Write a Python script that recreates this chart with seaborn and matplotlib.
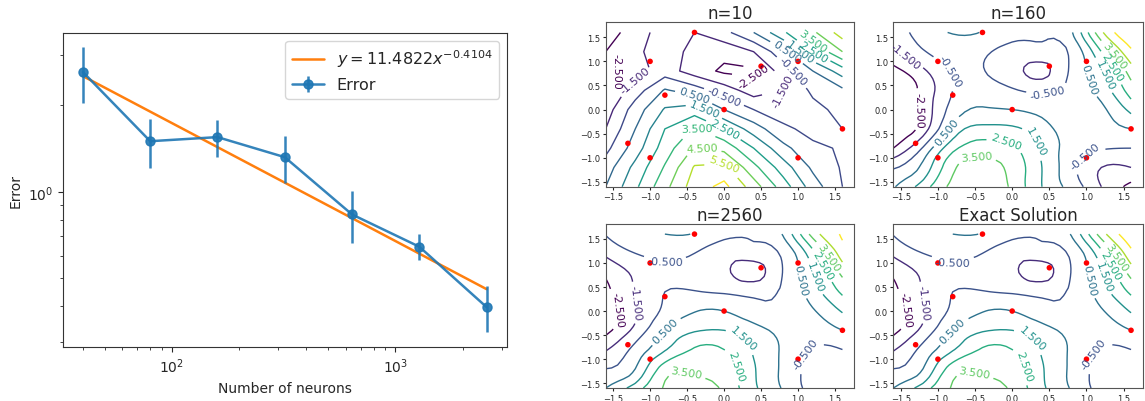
import numpy as np
import matplotlib
matplotlib.use("Agg")
import matplotlib.pyplot as plt
import matplotlib.tri as mtri
import seaborn as sns

# ---- left panel: convergence ----
neurons = [40, 80, 160, 320, 640, 1280, 2560]
error = [2.61, 1.50, 1.55, 1.32, 0.834, 0.644, 0.397]
error_bar = [0.57, 0.29, 0.23, 0.245, 0.17, 0.067, 0.073]
fit_coef = 11.4822
fit_expo = -0.4104

# ---- right panels: contour fields read on a 9x9 grid ----
grid_x = [-1.6, -1.2, -0.8, -0.4, 0.0, 0.4, 0.8, 1.2, 1.6]
grid_y = [1.6, 1.2, 0.8, 0.4, 0.0, -0.4, -0.8, -1.2, -1.6]

z_n10 = [
    [-3.0, -2.0, -1.0, -1.5, -0.8, 0.5, 2.3, 4.3, 6.0],
    [-2.5, -1.7, -1.0, -1.8, -2.2, -1.5, 0.2, 2.5, 4.5],
    [-2.8, -2.0, -1.0, -2.0, -2.7, -2.7, -1.0, 0.5, 2.0],
    [-2.5, -1.0, 0.6, 0.0, -1.0, -2.0, -1.5, -0.3, 0.3],
    [-2.0, 0.0, 1.6, 2.0, 0.5, -0.5, -1.0, -0.8, -0.2],
    [-1.5, 0.5, 2.5, 3.6, 2.5, 1.0, -0.3, -0.8, -0.5],
    [-0.8, 1.0, 3.0, 4.6, 4.2, 2.5, 0.8, -0.3, -0.6],
    [0.0, 1.8, 3.6, 5.6, 5.8, 3.8, 2.0, 0.3, -0.6],
    [0.5, 2.3, 4.2, 6.0, 6.8, 5.0, 3.0, 1.0, -0.5],
]

z_n160 = [
    [-1.2, 0.0, 0.55, 0.45, -0.2, -0.4, 0.4, 4.3, 6.3],
    [-1.8, -0.6, 0.0, -0.3, -0.8, -0.9, -0.3, 2.5, 5.3],
    [-2.8, -1.7, -0.4, -0.45, -1.1, -1.75, -0.3, 1.4, 4.0],
    [-3.3, -2.2, -0.5, 0.0, -0.4, -0.7, -0.2, 0.9, 3.0],
    [-3.5, -2.2, -0.1, 0.6, 0.5, 0.2, -0.1, 0.3, 1.8],
    [-3.2, -2.0, 0.8, 1.8, 1.7, 0.9, 0.1, 0.2, 0.5],
    [-2.5, -0.4, 2.2, 3.0, 2.7, 1.3, 0.1, -0.4, -0.5],
    [-0.6, 0.8, 3.3, 3.9, 3.2, 1.5, -0.2, -1.5, -1.5],
    [0.4, 2.0, 3.8, 4.3, 3.3, 1.5, 0.1, -1.5, -2.8],
]

z_n2560 = [
    [-0.45, 0.3, 0.5, 0.45, -0.2, -0.4, 0.6, 3.9, 5.6],
    [-1.3, -0.5, -0.2, -0.5, -1.1, -1.0, -0.3, 2.2, 5.0],
    [-2.3, -1.3, -0.7, -0.9, -1.3, -1.85, -0.45, 1.4, 3.8],
    [-2.8, -1.4, -0.5, -0.45, -0.6, -0.8, -0.35, 1.0, 2.7],
    [-3.2, -1.6, -0.3, 0.45, 0.5, -0.1, -0.2, 0.4, 1.6],
    [-2.8, -1.2, 0.5, 1.4, 1.5, 0.9, 0.2, 0.0, 0.5],
    [-1.6, -0.2, 1.4, 2.6, 2.5, 1.4, 0.35, -0.6, -0.5],
    [-0.5, 0.5, 3.0, 3.3, 3.0, 1.6, 0.3, -0.9, -1.0],
    [0.5, 2.0, 3.6, 4.0, 3.3, 1.7, 0.4, -0.9, -1.2],
]

z_exact = [
    [-0.45, 0.3, 0.5, 0.45, -0.2, -0.4, 0.6, 4.0, 6.2],
    [-1.3, -0.5, -0.2, -0.5, -1.1, -1.0, -0.3, 2.2, 5.2],
    [-2.3, -1.3, -0.7, -0.9, -1.3, -1.85, -0.45, 1.4, 3.9],
    [-2.8, -1.4, -0.5, -0.45, -0.6, -0.8, -0.35, 1.0, 2.7],
    [-3.2, -1.6, -0.3, 0.45, 0.5, -0.1, -0.2, 0.4, 1.6],
    [-2.8, -1.2, 0.5, 1.4, 1.5, 0.9, 0.2, 0.0, 0.5],
    [-1.6, -0.2, 1.4, 2.6, 2.5, 1.4, 0.35, -0.6, -0.5],
    [-0.5, 0.5, 3.0, 3.3, 3.0, 1.6, 0.3, -0.9, -1.0],
    [0.5, 2.0, 3.6, 4.0, 3.3, 1.7, 0.4, -0.9, -1.2],
]

# sample points (red dots)
pts_x = [-1.3, -1.0, -1.0, -0.8, -0.4, 0.0, 0.5, 1.0, 1.0, 1.6]
pts_y = [-0.7, -1.0, 1.0, 0.3, 1.6, 0.0, 0.9, 1.0, -1.0, -0.4]

all_levels = np.arange(-2.5, 7.0, 1.0)

sns.set_style("ticks")
plt.rcParams["font.family"] = ["DejaVu Sans"]

fig = plt.figure(figsize=(11.45, 4.02), dpi=100)

# left panel
ax = fig.add_axes([0.0548, 0.135, 0.3878, 0.780])
n_arr = np.array(neurons, dtype=float)
fit_vals = fit_coef * n_arr ** fit_expo
sns.lineplot(x=n_arr, y=fit_vals, ax=ax, color="#ff7f0e", lw=1.8,
             label=r"$y = 11.4822x^{-0.4104}$")
ax.errorbar(neurons, error, yerr=error_bar, color="#1f77b4", marker="o",
            ms=6.5, lw=1.8, elinewidth=1.8, label="Error", alpha=0.9)
ax.set_xscale("log")
ax.set_yscale("log")
ax.set_xlabel("Number of neurons", fontsize=10)
ax.set_ylabel("Error", fontsize=10)
ax.tick_params(labelsize=10)
ax.legend(loc="upper right", fontsize=11.5)
for s in ax.spines.values():
    s.set_color("#333333")


def smooth_field(z):
    gx, gy = np.meshgrid(grid_x, grid_y)
    tri = mtri.Triangulation(gx.ravel(), gy.ravel())
    interp = mtri.CubicTriInterpolator(tri, np.array(z).ravel(), kind="min_E")
    f = np.linspace(-1.6, 1.6, 41)
    fx, fy = np.meshgrid(f, f)
    return fx, fy, interp(fx, fy)


def draw_contour(ax, z, title, smooth=True):
    if smooth:
        X, Y, Z = smooth_field(z)
    else:
        X, Y = np.meshgrid(grid_x, grid_y)
        Z = np.array(z)
    lv = all_levels[(all_levels > Z.min()) & (all_levels < Z.max())]
    cs = ax.contour(X, Y, Z, levels=lv, cmap="viridis", linewidths=1.0)
    ax.clabel(cs, inline=True, fontsize=8, fmt="%1.3f")
    sns.scatterplot(x=pts_x, y=pts_y, color="red", s=16, edgecolor="none",
                    ax=ax, zorder=3)
    ax.set_xlim(-1.6, 1.76)
    ax.set_ylim(-1.6, 1.81)
    ax.set_xticks([-1.5, -1.0, -0.5, 0.0, 0.5, 1.0, 1.5])
    ax.set_yticks([-1.5, -1.0, -0.5, 0.0, 0.5, 1.0, 1.5])
    ax.tick_params(labelsize=6, length=2.5, pad=1.5)
    ax.set_title(title, fontsize=12, pad=3)
    for s in ax.spines.values():
        s.set_color("#555555")
        s.set_linewidth(0.8)


ax1 = fig.add_axes([0.529, 0.533, 0.2171, 0.409])
draw_contour(ax1, z_n10, "n=10", smooth=False)
ax2 = fig.add_axes([0.7802, 0.533, 0.218, 0.409])
draw_contour(ax2, z_n160, "n=160")
ax3 = fig.add_axes([0.529, 0.0323, 0.2171, 0.408])
draw_contour(ax3, z_n2560, "n=2560")
ax4 = fig.add_axes([0.7802, 0.0323, 0.218, 0.408])
draw_contour(ax4, z_exact, "Exact Solution")

fig.savefig("out.png", dpi=100)
